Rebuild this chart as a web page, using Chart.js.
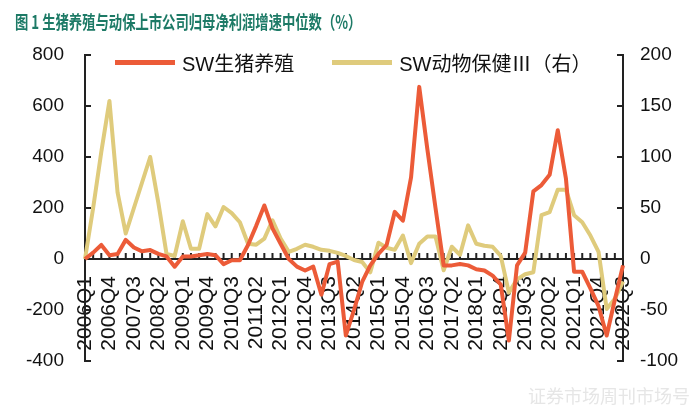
<!DOCTYPE html>
<html lang="zh">

<head>
    <meta charset="UTF-8">
    <title>生猪养殖与动保上市公司归母净利润增速中位数</title>
    <script src="https://cdn.jsdelivr.net/npm/chart.js"></script>
    <style>
        body {
            margin: 0;
            background: #fff;
        }

        #wrap {
            position: relative;
            width: 700px;
            height: 410px;
        }

        #title {
            position: absolute;
            left: 15px;
            top: 8px;
            font-family: "Noto Sans CJK SC", sans-serif;
            font-weight: bold;
            font-size: 18px;
            color: #1d7a66;
            white-space: nowrap;
            transform: scaleX(0.74);
            transform-origin: left top;
        }

        #legend {
            position: absolute;
            left: 115px;
            top: 50px;
            height: 24px;
            display: flex;
            align-items: center;
            font-family: "Liberation Sans", "Noto Sans CJK SC", sans-serif;
            font-size: 20px;
            color: #111;
        }

        .item {
            display: flex;
            align-items: center;
            margin-right: 38px;
        }

        .swatch {
            width: 60px;
            height: 5px;
            margin-right: 7px;
        }

        .cjk {
            font-family: "Noto Sans CJK SC", sans-serif;
        }

        #mark {
            position: absolute;
            left: 528px;
            top: 382px;
            font-family: "Noto Sans CJK SC", sans-serif;
            font-size: 18px;
            color: #e6e6e6;
            white-space: nowrap;
        }
    </style>
</head>

<body>
    <div id="wrap">
        <canvas id="myChart"></canvas>
        <div id="title">图 1 生猪养殖与动保上市公司归母净利润增速中位数（%）</div>
        <div id="legend"></div>
        <div id="mark">证券市场周刊市场号</div>
    </div>

    <script>
        // quarters on the x axis
        const quarters = [
            '2006Q1', '2006Q2', '2006Q3', '2006Q4', '2007Q1', '2007Q2', '2007Q3', '2007Q4',
            '2008Q1', '2008Q2', '2008Q3', '2008Q4', '2009Q1', '2009Q2', '2009Q3', '2009Q4',
            '2010Q1', '2010Q2', '2010Q3', '2010Q4', '2011Q1', '2011Q2', '2011Q3', '2011Q4',
            '2012Q1', '2012Q2', '2012Q3', '2012Q4', '2013Q1', '2013Q2', '2013Q3', '2013Q4',
            '2014Q1', '2014Q2', '2014Q3', '2014Q4', '2015Q1', '2015Q2', '2015Q3', '2015Q4',
            '2016Q1', '2016Q2', '2016Q3', '2016Q4', '2017Q1', '2017Q2', '2017Q3', '2017Q4',
            '2018Q1', '2018Q2', '2018Q3', '2018Q4', '2019Q1', '2019Q2', '2019Q3', '2019Q4',
            '2020Q1', '2020Q2', '2020Q3', '2020Q4', '2021Q1', '2021Q2', '2021Q3', '2021Q4',
            '2022Q1', '2022Q2', '2022Q3'
        ];

        // SW生猪养殖 (left axis, %)
        const pigFarming = [
            0, 25, 55, 15, 20, 75, 45, 30,
            35, 20, 10, -30, 10, 10, 15, 20,
            15, -20, -5, -5, 55, 130, 210, 120,
            60, 0, -30, -45, -30, -140, -20, -10,
            -300, -200, -90, -25, 20, 55, 185, 150,
            320, 675, 430, 200, -25, -25, -20, -25,
            -40, -45, -65, -100, -320, -25, 25, 265,
            290, 330, 505, 315, -50, -50, -115, -185,
            -300, -160, -25
        ];

        // SW动物保健III (right axis, %)
        const animalHealth = [
            0, 50, 105, 155, 65, 25, 50, 75,
            100, 55, 5, 3, 37, 10, 10, 44,
            32, 51, 45, 36, 15, 14, 20, 38,
            20, 7, 10, 14, 12, 9, 8, 6,
            3, -1, -3, -13, 16, 11, 9, 23,
            -4, 15, 22, 22, -11, 12, 4, 33,
            15, 13, 12, 3, -33, -20, -15, -13,
            43, 46, 68, 68, 43, 36, 23, 7,
            -49, -39, -22
        ];

        const seriesNames = ['SW生猪养殖', 'SW动物保健Ⅲ（右）'];
        const seriesColors = ['#ec5b38', '#dfcb7c'];

        // legend sits inside the plot, so build it as html
        const legend = document.getElementById('legend');
        seriesNames.forEach(function (name, i) {
            const item = document.createElement('div');
            item.className = 'item';
            item.innerHTML = '<div class="swatch" style="background:' + seriesColors[i] + '"></div>' +
                name.replace('Ⅲ', '<span class="cjk">Ⅲ</span>');
            legend.appendChild(item);
        });

        // short tick marks pointing into the plot
        const innerTicks = {
            id: 'innerTicks',
            beforeDatasetsDraw(chart) {
                const { ctx, chartArea, scales } = chart;
                const zero = scales.y.getPixelForValue(0);
                ctx.save();
                ctx.strokeStyle = '#222';
                ctx.lineWidth = 2;
                ctx.beginPath();
                scales.x.ticks.forEach(function (t, i) {
                    const px = scales.x.getPixelForTick(i);
                    ctx.moveTo(px, zero);
                    ctx.lineTo(px, zero - 6);
                });
                scales.y.ticks.forEach(function (t, i) {
                    const py = scales.y.getPixelForTick(i);
                    ctx.moveTo(chartArea.left, py);
                    ctx.lineTo(chartArea.left + 6, py);
                });
                scales.y1.ticks.forEach(function (t, i) {
                    const py = scales.y1.getPixelForTick(i);
                    ctx.moveTo(chartArea.right, py);
                    ctx.lineTo(chartArea.right - 6, py);
                });
                ctx.stroke();
                ctx.restore();
            }
        };

        Chart.defaults.font.family = "'Liberation Sans', Arial, sans-serif";
        Chart.defaults.color = '#111';

        const myChart = new Chart(document.getElementById('myChart'), {
            type: 'line',
            data: {
                labels: quarters,
                datasets: [{
                    label: seriesNames[0],
                    data: pigFarming,
                    yAxisID: 'y',
                    borderColor: seriesColors[0],
                    backgroundColor: seriesColors[0],
                    borderWidth: 4,
                    borderJoinStyle: 'round',
                    pointRadius: 0,
                    tension: 0,
                    order: 1
                }, {
                    label: seriesNames[1],
                    data: animalHealth,
                    yAxisID: 'y1',
                    borderColor: seriesColors[1],
                    backgroundColor: seriesColors[1],
                    borderWidth: 4,
                    borderJoinStyle: 'round',
                    pointRadius: 0,
                    tension: 0,
                    order: 2
                }]
            },
            options: {
                responsive: true,
                maintainAspectRatio: false,
                animation: false,
                layout: {
                    padding: { top: 55, bottom: 49, left: 0, right: 0 }
                },
                plugins: {
                    legend: { display: false },
                    tooltip: { enabled: false }
                },
                scales: {
                    x: {
                        position: { y: 0 },
                        offset: false,
                        grid: { display: false, drawTicks: false },
                        border: { color: '#222', width: 2 },
                        ticks: {
                            autoSkip: false,
                            minRotation: 90,
                            maxRotation: 90,
                            padding: 17,
                            font: { size: 21 },
                            callback: function (v, i) {
                                return i % 3 === 0 ? quarters[i] : '';
                            }
                        },
                        afterFit: function (scale) { scale.height = 0; }
                    },
                    y: {
                        position: 'left',
                        min: -400,
                        max: 800,
                        grid: { display: false, drawTicks: false },
                        border: { color: '#222', width: 2 },
                        ticks: { stepSize: 200, padding: 21, font: { size: 19 } },
                        afterFit: function (scale) { scale.width = 85; }
                    },
                    y1: {
                        position: 'right',
                        min: -100,
                        max: 200,
                        grid: { display: false, drawTicks: false },
                        border: { color: '#222', width: 2 },
                        ticks: { stepSize: 50, padding: 17, font: { size: 19 } },
                        afterFit: function (scale) { scale.width = 77; }
                    }
                }
            },
            plugins: [innerTicks]
        });
    </script>
</body>

</html>
